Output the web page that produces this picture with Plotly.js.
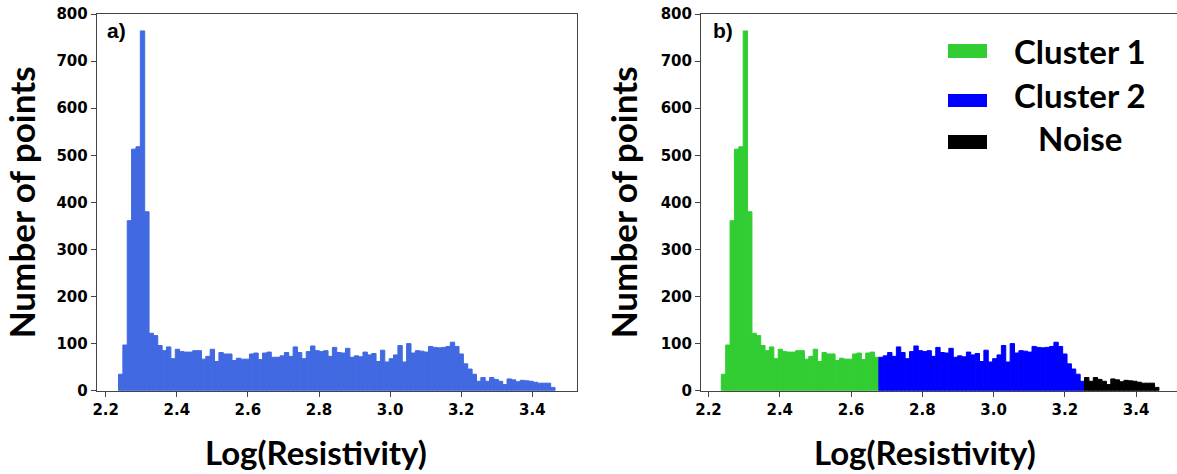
<!DOCTYPE html>
<html>
<head>
<meta charset="utf-8">
<script src="https://cdn.plot.ly/plotly-3.0.1.min.js"></script>
<style>
  html, body { margin: 0; padding: 0; background: #fff; }
  #chart { width: 1177px; height: 474px; }
</style>
</head>
<body>
<div id="chart"></div>
<script>
// ---- data ----
const binStart = 2.236;      // left edge of first histogram bin, Log(Resistivity)
const binWidth = 0.01228;    // histogram bin width
const counts = [
  35, 97, 361, 513, 518, 764, 380, 122, 117, 96,
  85, 93, 68, 88, 83, 82, 82, 85, 85, 67,
  73, 88, 62, 81, 78, 78, 64, 69, 67, 67,
  78, 80, 66, 80, 82, 71, 71, 74, 81, 73,
  93, 81, 68, 83, 95, 85, 83, 85, 73, 92,
  81, 80, 90, 71, 74, 72, 82, 76, 79, 62,
  86, 61, 68, 76, 96, 61, 100, 80, 85, 84,
  82, 94, 92, 91, 92, 94, 103, 94, 78, 57,
  46, 35, 20, 28, 20, 28, 24, 20, 13, 25,
  23, 19, 22, 21, 20, 18, 16, 16, 16, 7
];
const clusterNames = ["Cluster 1", "Cluster 2", "Noise"];
const clusterFirstBin = [0, 36, 83];   // first bin index of each cluster
const clusterColors = ["#32CD32", "#0000FF", "#000000"];
const panelLabels = ["a)", "b)"];
const xTickVals = [2.2, 2.4, 2.6, 2.8, 3.0, 3.2, 3.4];
const yTickVals = [0, 100, 200, 300, 400, 500, 600, 700, 800];
const xTitle = "Log(Resistivity)";
const yTitle = "Number of points";

// ---- derived ----
const centers = counts.map((_, i) => binStart + binWidth * (i + 0.5));

const traces = [{
  type: "bar", x: centers, y: counts, width: binWidth,
  xaxis: "x", yaxis: "y", showlegend: false,
  marker: { color: "#4169E1", line: { color: "#4169E1", width: 1 } },
  hoverinfo: "x+y"
}];
clusterNames.forEach((name, k) => {
  const a = clusterFirstBin[k];
  const b = k + 1 < clusterFirstBin.length ? clusterFirstBin[k + 1] : counts.length;
  traces.push({
    type: "bar", name: name,
    x: centers.slice(a, b), y: counts.slice(a, b), width: binWidth,
    xaxis: "x2", yaxis: "y2", showlegend: false,
    marker: { color: clusterColors[k], line: { color: clusterColors[k], width: 1 } }
  });
});

const W = 1177, H = 474;
const px = v => v / W, py = v => 1 - v / H;
const tickFont = { family: "DejaVu Sans", size: 15, color: "#000", weight: "bold" };
const titleFont = { family: "Lato", size: 33, color: "#000", weight: "bold" };
const yTitleFont = { family: "Lato", size: 35, color: "#000", weight: "bold" };
const lineCol = "#444";

function xAxis(domain, range, anchor) {
  return {
    domain: domain, range: range, anchor: anchor,
    tickmode: "array", tickvals: xTickVals, ticktext: xTickVals.map(v => v.toFixed(1)),
    ticks: "outside", ticklen: 5, tickwidth: 1, tickcolor: lineCol,
    showline: true, linecolor: lineCol, linewidth: 1, mirror: true,
    showgrid: false, zeroline: false, tickfont: tickFont, automargin: false, fixedrange: true
  };
}
function yAxis(anchor, mirror, standoff) {
  return {
    domain: [py(390.7), py(14)], range: [0, 800], anchor: anchor,
    tickmode: "array", tickvals: yTickVals,
    ticks: "outside", ticklen: 5, tickwidth: 1, tickcolor: lineCol,
    showline: true, linecolor: lineCol, linewidth: 1, mirror: mirror,
    showgrid: false, zeroline: false, tickfont: tickFont, automargin: false, fixedrange: true,
    title: { text: yTitle, font: yTitleFont, standoff: standoff }
  };
}

const legendRows = [50, 94, 137];
const legendBoxes = [[44, 58], [94, 107], [135, 149]];
const shapes = clusterNames.map((n, k) => ({
  type: "rect", xref: "paper", yref: "paper",
  x0: px(948), x1: px(987), y0: py(legendBoxes[k][1]), y1: py(legendBoxes[k][0]),
  fillcolor: clusterColors[k], line: { width: 0 }
}));

const annotations = [
  { text: panelLabels[0], x: px(105), y: py(31), xanchor: "left", yanchor: "middle" },
  { text: panelLabels[1], x: px(711), y: py(31), xanchor: "left", yanchor: "middle" }
].map(a => Object.assign(a, { xref: "paper", yref: "paper", showarrow: false,
  font: { family: "Liberation Sans", size: 21, color: "#000", weight: "bold" } }));

annotations.push(
  { text: xTitle, x: px(316), y: py(452), xref: "paper", yref: "paper", showarrow: false,
    xanchor: "center", yanchor: "middle", font: titleFont },
  { text: xTitle, x: px(925), y: py(452), xref: "paper", yref: "paper", showarrow: false,
    xanchor: "center", yanchor: "middle", font: titleFont }
);
clusterNames.forEach((n, k) => annotations.push({
  text: n, x: px(1080), y: py(legendRows[k] + 1), xref: "paper", yref: "paper", showarrow: false,
  xanchor: "center", yanchor: "middle", font: titleFont
}));

const layout = {
  width: W, height: H,
  margin: { l: 0, r: 0, t: 0, b: 0, pad: 0 },
  paper_bgcolor: "#fff", plot_bgcolor: "#fff",
  barmode: "overlay", bargap: 0,
  showlegend: false,
  xaxis: xAxis([px(96.7), px(577)], [2.1747, 3.5257], "y"),
  yaxis: yAxis("x", true, 12),
  xaxis2: xAxis([px(701), 1], [2.179, 3.5147], "y2"),
  yaxis2: yAxis("x2", false, 12),
  shapes: shapes,
  annotations: annotations
};

Plotly.newPlot("chart", traces, layout, { staticPlot: true, displayModeBar: false });
</script>
</body>
</html>
